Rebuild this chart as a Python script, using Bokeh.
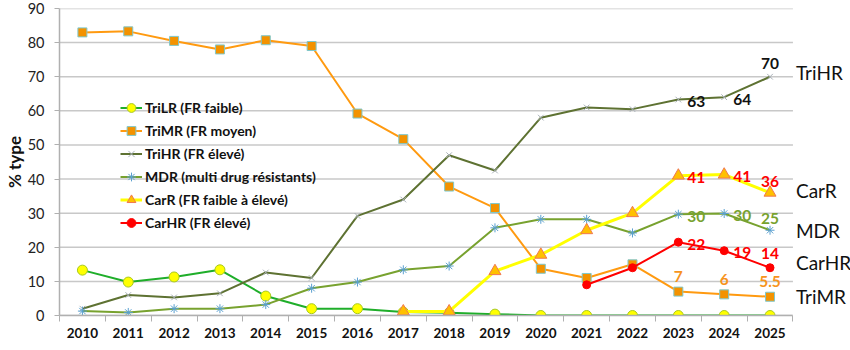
from bokeh.plotting import figure
from bokeh.models import Range1d, FixedTicker, Legend, LegendItem
from bokeh.core.properties import value
from bokeh.embed import file_html
from bokeh.resources import INLINE

years = list(range(2010, 2026))
tri_lr = [13.3, 9.8, 11.3, 13.4, 5.7, 2.0, 2.0, 1.0, 0.8, 0.4, 0, 0, 0, 0, 0, 0]
tri_mr = [83.0, 83.3, 80.5, 78.0, 80.7, 79.0, 59.2, 51.7, 37.8, 31.5, 13.7, 11.0, 15.0, 7.0, 6.2, 5.5]
tri_hr = [2.0, 6.0, 5.3, 6.5, 12.6, 11.0, 29.2, 34.0, 47.0, 42.5, 58.0, 61.0, 60.5, 63.3, 64.0, 70.0]
mdr = [1.3, 0.9, 2.0, 2.0, 3.2, 8.0, 9.8, 13.4, 14.5, 25.7, 28.2, 28.2, 24.2, 29.7, 29.9, 25.0]
car_years = list(range(2017, 2026))
car_r = [1.2, 1.2, 13.0, 17.8, 25.0, 30.0, 41.0, 41.3, 36.0]
carhr_years = list(range(2021, 2026))
car_hr = [9.0, 14.0, 21.5, 19.0, 14.0]

label_years = [2023, 2024, 2025]
tri_hr_labels = ["63", "64", "70"]
car_r_labels = ["41", "41", "36"]
mdr_labels = ["30", "30", "25"]
car_hr_labels = ["22", "19", "14"]
tri_mr_labels = ["7", "6", "5.5"]

legend_names = ["TriLR (FR faible)", "TriMR (FR moyen)", "TriHR (FR élevé)",
                "MDR (multi drug résistants)", "CarR (FR faible à élevé)", "CarHR (FR élevé)"]
side_names = ["TriHR", "CarR", "MDR", "CarHR", "TriMR"]
y_ticks = list(range(0, 100, 10))

FONT = "Lato"
X0, X1 = years[0] - 0.5, years[-1] + 0.5
PX_PER_YEAR = 739 / 16.0
X_END = X1 + 58 / PX_PER_YEAR  # room on the right for the series names

p = figure(width=850, height=350, output_backend="svg", toolbar_location=None,
           x_range=Range1d(X0, X_END), y_range=Range1d(0, 90),
           min_border_left=52, min_border_right=0, min_border_top=8, min_border_bottom=35)
p.outline_line_color = None
p.background_fill_color = "white"

# axes
p.xaxis.ticker = FixedTicker(ticks=years, minor_ticks=[y - 0.5 for y in years] + [X1])
p.xaxis.bounds = (X0, X1)
p.xaxis.major_label_overrides = {y: str(y) for y in years}
p.xaxis.major_tick_line_color = None
p.xaxis.minor_tick_out = 6
p.xaxis.minor_tick_in = 0
p.xaxis.minor_tick_line_color = "#b0b0b0"
p.xaxis.axis_line_color = "#b0b0b0"
p.xaxis.axis_line_width = 1.5
p.xaxis.major_label_text_font = FONT
p.xaxis.major_label_text_font_style = "bold"
p.xaxis.major_label_text_font_size = "13.5px"
p.xaxis.major_label_text_color = "#111111"
p.xaxis.major_label_standoff = 6

p.yaxis.ticker = FixedTicker(ticks=y_ticks)
p.yaxis.minor_tick_line_color = None
p.yaxis.major_tick_out = 5
p.yaxis.major_tick_in = 0
p.yaxis.major_tick_line_color = "#b0b0b0"
p.yaxis.axis_line_color = "#b0b0b0"
p.yaxis.axis_line_width = 1.5
p.yaxis.major_label_text_font = FONT
p.yaxis.major_label_text_font_size = "14.5px"
p.yaxis.major_label_text_color = "#222222"
p.yaxis.major_label_standoff = 10
p.yaxis.axis_label = "% type"
p.yaxis.axis_label_text_font = FONT
p.yaxis.axis_label_text_font_style = "bold"
p.yaxis.axis_label_text_font_size = "17px"
p.yaxis.axis_label_text_color = "#111111"
p.yaxis.axis_label_standoff = 0

p.xgrid.grid_line_color = None
p.ygrid.grid_line_color = None
# horizontal gridlines limited to the category span
p.segment(x0=[X0] * len(y_ticks), x1=[X1] * len(y_ticks), y0=y_ticks, y1=y_ticks,
          line_color="#c8c8c8", line_width=1.5, level="underlay")

# series
r1l = p.line(years, tri_lr, line_color="#1fae2a", line_width=2)
r1m = p.scatter(years, tri_lr, marker="circle", size=10, fill_color="#ffff00", line_color="#a8c820", line_width=1)

r2l = p.line(years, tri_mr, line_color="#ff9a10", line_width=2)
r2m = p.scatter(years, tri_mr, marker="square", size=9, fill_color="#f39200", line_color="#7ec8cc", line_width=1)

r3l = p.line(years, tri_hr, line_color="#5e7232", line_width=2)
r3m = p.scatter(years, tri_hr, marker="x", size=8, line_color="#a8b0b8", line_width=1)

r4l = p.line(years, mdr, line_color="#78a22f", line_width=2)
r4m = p.scatter(years, mdr, marker="asterisk", size=9, line_color="#5aa0d0", line_width=1)

r5l = p.line(car_years, car_r, line_color="#ffff00", line_width=3)
r5m = p.scatter(car_years, car_r, marker="triangle", size=12, fill_color="#ffc000", line_color="#f07850", line_width=1)

r6l = p.line(carhr_years, car_hr, line_color="#ff0000", line_width=2)
r6m = p.scatter(carhr_years, car_hr, marker="circle", size=8, fill_color="#ff0000", line_color="#ff0000")


def val_at(vals, yr):
    return vals[yr - (years[-1] + 1 - len(vals))]


def label_set(vals, texts, color, right, dy_above=-13):
    for yr, t in zip(label_years, texts):
        v = val_at(vals, yr)
        if right and yr != label_years[-1]:
            p.text([yr], [v], text=[t], text_align="left", text_baseline="middle",
                   x_offset=9, y_offset=2, text_font=value(FONT), text_font_style="bold",
                   text_font_size="15.5px", text_color=color)
        else:
            p.text([yr], [v], text=[t], text_align="center", text_baseline="middle",
                   x_offset=0, y_offset=dy_above, text_font=value(FONT), text_font_style="bold",
                   text_font_size="15.5px", text_color=color)


label_set(tri_hr, tri_hr_labels, "#111111", True)
label_set(car_r, car_r_labels, "#ff0000", True, -11)
label_set(mdr, mdr_labels, "#78a22f", True, -12)
label_set(car_hr, car_hr_labels, "#ff0000", True, -14)
label_set(tri_mr, tri_mr_labels, "#f7941d", False, -15)

# series names on the right
side_vals = [tri_hr[-1], car_r[-1], mdr[-1], car_hr[-1], tri_mr[-1]]
side_nudge = [-4, -2, 0, -5, 0]
for name, v, n in zip(side_names, side_vals, side_nudge):
    p.text([X1], [v], text=[name], x_offset=3, y_offset=n, text_baseline="middle",
           text_align="left", text_font=value(FONT), text_font_size="19px", text_color="#111111")

legend = Legend(items=[
    LegendItem(label=legend_names[0], renderers=[r1l, r1m]),
    LegendItem(label=legend_names[1], renderers=[r2l, r2m]),
    LegendItem(label=legend_names[2], renderers=[r3l, r3m]),
    LegendItem(label=legend_names[3], renderers=[r4l, r4m]),
    LegendItem(label=legend_names[4], renderers=[r5l, r5m]),
    LegendItem(label=legend_names[5], renderers=[r6l, r6m]),
], location=(61, 81))
legend.border_line_color = None
legend.background_fill_alpha = 0
legend.padding = 0
legend.margin = 0
legend.spacing = 0
legend.glyph_width = 22
legend.glyph_height = 23
legend.label_height = 23
legend.label_standoff = 3
legend.label_text_font = FONT
legend.label_text_font_style = "bold"
legend.label_text_font_size = "14px"
legend.label_text_color = "#111111"
p.add_layout(legend)

open("out.html", "w").write(file_html(p, INLINE))
